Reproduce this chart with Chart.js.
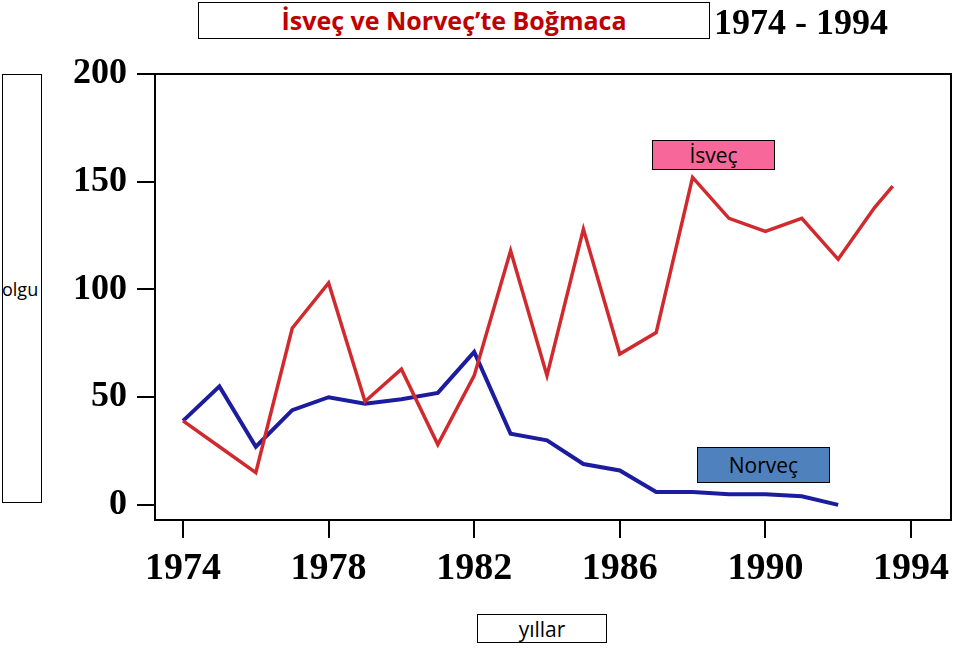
<!DOCTYPE html>
<html>
<head>
<meta charset="utf-8">
<script src="https://cdn.jsdelivr.net/npm/chart.js@4"></script>
<style>
  html, body { margin: 0; padding: 0; background: #fff; }
  #wrap { position: relative; width: 960px; height: 649px; }
  canvas { position: absolute; left: 0; top: 0; }
  .box { position: absolute; box-sizing: border-box; border: 1px solid #000; background: #fff;
         font-family: 'Open Sans', sans-serif; color: #000; text-align: center; white-space: nowrap; overflow: hidden; }
</style>
</head>
<body>
<div id="wrap">
  <canvas id="myChart" width="960" height="649"></canvas>
  <div class="box" style="left:198px;top:2px;width:512px;height:37px;line-height:35px;font-size:25px;font-weight:bold;color:#c00000;">İsveç ve Norveç’te Boğmaca</div>
  <div style="position:absolute;left:714px;top:0px;font-family:'Liberation Serif',serif;font-weight:bold;font-size:36px;line-height:44px;">1974 - 1994</div>
  <div class="box" style="left:2px;top:74px;width:40px;height:429px;font-size:18px;line-height:429px;text-align:left;text-indent:-1px;">olgu</div>
  <div class="box" style="left:652px;top:140px;width:123px;height:30px;line-height:28px;font-size:21px;background:#f7679a;">İsveç</div>
  <div class="box" style="left:697px;top:447px;width:133px;height:36px;line-height:34px;font-size:21px;background:#4f81bd;">Norveç</div>
  <div class="box" style="left:477px;top:614px;width:130px;height:29px;line-height:29px;font-size:21px;">yıllar</div>
</div>
<script>
document.addEventListener('DOMContentLoaded', function() {
    // data
    const swedenYears = [1974, 1975, 1976, 1977, 1978, 1979, 1980, 1981, 1982, 1983, 1984, 1985, 1986, 1987, 1988, 1989, 1990, 1991, 1992, 1993, 1993.5];
    const swedenCases = [39, 27, 15, 82, 103, 48, 63, 28, 60, 118, 60, 128, 70, 80, 152, 133, 127, 133, 114, 138, 148];
    const norwayYears = [1974, 1975, 1976, 1977, 1978, 1979, 1980, 1981, 1982, 1983, 1984, 1985, 1986, 1987, 1988, 1989, 1990, 1991, 1992];
    const norwayCases = [39, 55, 27, 44, 50, 47, 49, 52, 71, 33, 30, 19, 16, 6, 6, 5, 5, 4, 0];
    const xTicks = [1974, 1978, 1982, 1986, 1990, 1994];
    const yTicks = [0, 50, 100, 150, 200];

    const toPoints = (xs, ys) => xs.map((x, i) => ({ x: x, y: ys[i] }));

    // box round the plot area (top and right sides)
    const frame = {
        id: 'frame',
        afterDraw(chart) {
            const a = chart.chartArea;
            const c = chart.ctx;
            c.save();
            c.strokeStyle = '#000';
            c.lineWidth = 2;
            c.strokeRect(a.left, a.top, a.right - a.left, a.bottom - a.top);
            c.restore();
        }
    };

    const ctx = document.getElementById('myChart').getContext('2d');
    new Chart(ctx, {
        type: 'line',
        data: {
            datasets: [
                {
                    label: 'İsveç',
                    data: toPoints(swedenYears, swedenCases),
                    borderColor: '#d02a2e',
                    borderWidth: 3.5,
                    pointRadius: 0,
                    tension: 0
                },
                {
                    label: 'Norveç',
                    data: toPoints(norwayYears, norwayCases),
                    borderColor: '#1c1c9e',
                    borderWidth: 4,
                    pointRadius: 0,
                    tension: 0
                }
            ]
        },
        options: {
            responsive: false,
            animation: false,
            layout: { padding: { top: 74, right: 9, left: 0, bottom: 0 } },
            plugins: {
                legend: { display: false },
                tooltip: { enabled: false }
            },
            scales: {
                x: {
                    type: 'linear',
                    min: 1973.23,
                    max: 1995.1,
                    afterBuildTicks: function(scale) {
                        scale.ticks = xTicks.map(v => ({ value: v }));
                    },
                    afterFit: function(scale) { scale.height = 129; },
                    border: { display: true, color: '#000', width: 2 },
                    grid: { display: true, drawOnChartArea: false, drawTicks: true, tickLength: 18, color: '#000', lineWidth: 2 },
                    ticks: {
                        color: '#000',
                        padding: 8,
                        maxRotation: 0,
                        font: { family: 'Liberation Serif', weight: 'bold', size: 38 },
                        callback: v => String(v)
                    }
                },
                y: {
                    min: -7,
                    max: 200,
                    afterBuildTicks: function(scale) {
                        scale.ticks = yTicks.map(v => ({ value: v }));
                    },
                    afterFit: function(scale) { scale.width = 155; },
                    border: { display: true, color: '#000', width: 2 },
                    grid: { display: true, drawOnChartArea: false, drawTicks: true, tickLength: 18, color: '#000', lineWidth: 2 },
                    ticks: {
                        color: '#000',
                        padding: 10,
                        font: { family: 'Liberation Serif', weight: 'bold', size: 36 },
                        callback: v => String(v)
                    }
                }
            }
        },
        plugins: [frame]
    });
});
</script>
</body>
</html>
